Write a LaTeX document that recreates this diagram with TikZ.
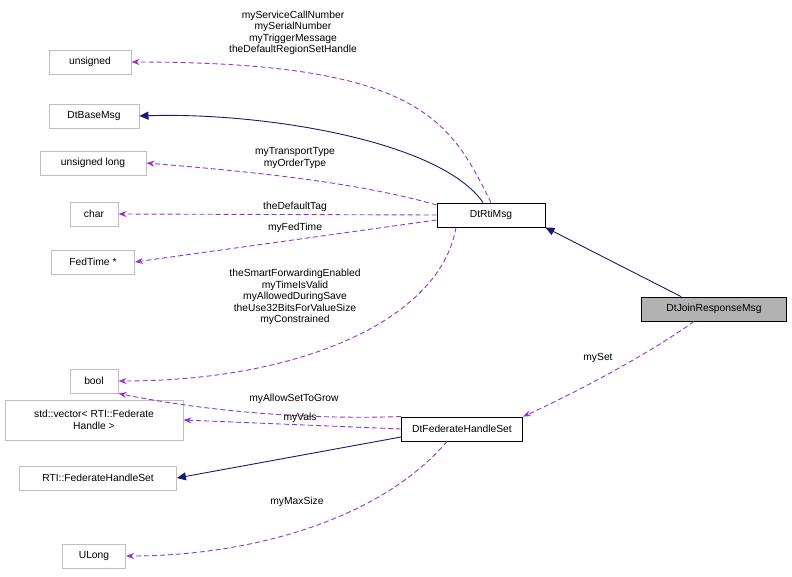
\documentclass[tikz,border=0pt]{standalone}
\usepackage{fontspec}
\setmainfont{Liberation Sans}
\usetikzlibrary{arrows.meta}
\definecolor{pu}{HTML}{9A32CD}
\definecolor{nv}{HTML}{191970}
\begin{document}
\begin{tikzpicture}[x=1pt,y=-1pt,font=\fontsize{10.3}{11.5}\selectfont,line width=0.9pt,
 box/.style={draw=gray!50,minimum height=24,inner xsep=5,align=center},
 main/.style={draw=black,minimum height=24,inner xsep=5},
 use/.style={pu,dash pattern=on 5pt off 3pt,-{Stealth[length=8,width=6]}},
 inh/.style={nv,-{Triangle[length=9,width=8]}},
 lab/.style={align=center,inner sep=0,text=black}]
\useasboundingbox (0,0) rectangle (792,576);
\node[box,minimum width=82] (uns) at (90,62) {unsigned};
\node[box,minimum width=90] (base) at (94,116) {DtBaseMsg};
\node[box,minimum width=106] (ul) at (93,163) {unsigned long};
\node[box,minimum width=48] (char) at (94,214) {char};
\node[box,minimum width=83] (ft) at (93,262) {FedTime *};
\node[box,minimum width=48] (bool) at (94,381) {bool};
\node[box,minimum width=178,minimum height=40] (vec) at (94,420) {std::vector< RTI::Federate\\Handle >};
\node[box,minimum width=157] (rfhs) at (98,478) {RTI::FederateHandleSet};
\node[box,minimum width=63] (ulong) at (94,556) {ULong};
\node[main,minimum width=108] (rti) at (491,215) {DtRtiMsg};
\node[main,fill=gray!60,minimum width=145] (join) at (714,309) {DtJoinResponseMsg};
\node[main,minimum width=121] (fhs) at (462,429) {DtFederateHandleSet};

\draw[inh] (join.north west) ++(40,0) -- (rti.south east);
\draw[inh] (rti.north) ++(-8,0) .. controls (440,140) and (260,112) .. (base.east);
\draw[use] (rti.north) .. controls (450,120) and (420,62) .. (uns.east);
\draw[use] (rti.west) ++(0,-10) .. controls (350,180) and (230,170) .. (ul.east);
\draw[use] (rti.west) -- (char.east);
\draw[use] (rti.west) ++(0,5) -- (ft.east);
\draw[use] (rti.south) ++(-35,0) .. controls (440,320) and (300,381) .. (bool.east);
\draw[use] (fhs.north west) .. controls (300,420) and (200,410) .. (bool.south east);
\draw[use] (fhs.west) -- (vec.east);
\draw[inh] (fhs.west) ++(0,8) -- (rfhs.east);
\draw[use] (fhs.south) ++(-15,0) .. controls (380,520) and (250,556) .. (ulong.east);
\draw[use] (join.south) ++(-20,0) .. controls (640,360) and (560,400) .. (fhs.north east);

\node[lab] at (293,33) {myServiceCallNumber\\mySerialNumber\\myTriggerMessage\\theDefaultRegionSetHandle};
\node[lab] at (295,158) {myTransportType\\myOrderType};
\node[lab] at (295,207) {theDefaultTag};
\node[lab] at (295,228) {myFedTime};
\node[lab] at (295,297) {theSmartForwardingEnabled\\myTimeIsValid\\myAllowedDuringSave\\theUse32BitsForValueSize\\myConstrained};
\node[lab] at (294,399) {myAllowSetToGrow};
\node[lab] at (300,418) {myVals};
\node[lab] at (297,502) {myMaxSize};
\node[lab] at (598,358) {mySet};
\end{tikzpicture}
\end{document}
